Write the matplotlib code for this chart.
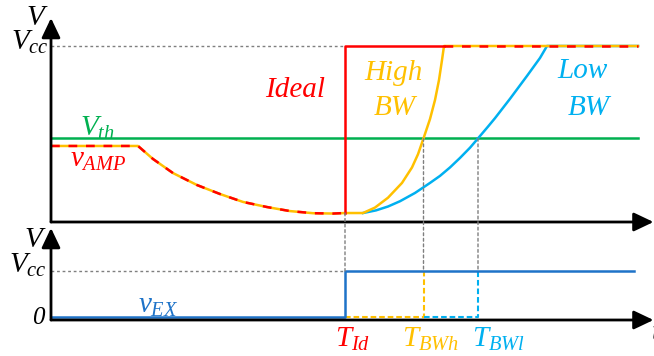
import matplotlib
matplotlib.use("Agg")
from matplotlib import pyplot as plt
from matplotlib.patches import ConnectionPatch

plt.rcParams['mathtext.fontset'] = 'custom'
plt.rcParams['mathtext.it'] = 'Liberation Serif:italic'
plt.rcParams['mathtext.rm'] = 'Liberation Serif'
plt.rcParams['font.family'] = 'Liberation Serif'

RED = '#ff0000'
YEL = '#ffc000'
CYA = '#00b0f0'
GRN = '#00b050'
BLU = '#1e73c8'
GRY = '#7f7f7f'

# time in arbitrary units, voltage normalised to Vcc = 1
vcc = 1.0
vth = 0.475
t_id = 29.4      # ideal comparator switches
t_bwh = 37.25    # high bandwidth crosses Vth
t_bwl = 42.7     # low bandwidth crosses Vth
t_end = 58.7
t_ex_end = 58.3

# amplifier output before the switching instant
amp_t = [0, 8.7, 10.2, 12.2, 14.6, 16.9, 19.2, 21.6, 23.9, 26.2, 28.2, 29.4]
amp_v = [0.432, 0.432, 0.358, 0.278, 0.210, 0.159, 0.114, 0.085, 0.062, 0.050, 0.048, 0.051]

# flat part shared by both real responses
settle_t = [29.4, 31.2]
settle_v = [0.051, 0.051]

high_t = [31.2, 32.4, 33.7, 35.1, 36.1, 36.7, 37.25, 37.9, 38.4, 38.8, 39.1, 39.3]
high_v = [0.051, 0.082, 0.138, 0.222, 0.310, 0.385, 0.475, 0.585, 0.693, 0.807, 0.920, 1.0]

low_t = [31.2, 32.5, 33.7, 34.9, 36.4, 37.9, 38.9, 39.9, 40.9, 41.9, 42.7,
         43.7, 44.4, 45.9, 47.6, 48.9, 49.6]
low_v = [0.051, 0.066, 0.088, 0.118, 0.165, 0.222, 0.262, 0.310, 0.364, 0.422, 0.475,
         0.542, 0.590, 0.700, 0.830, 0.932, 1.0]

ex_t = [0, t_id, t_id, t_ex_end]
ex_v = [0, 0, vcc, vcc]

fig = plt.figure(figsize=(6.54, 3.56), dpi=100)
ax1 = fig.add_axes([51/654, 130/356, 603/654, 226/356])
ax2 = fig.add_axes([51/654, 0, 603/654, 130/356])
ax1.set_xlim(0, 60.3)
ax1.set_ylim(-4/176, 222/176)
ax2.set_xlim(0, 60.3)
ax2.set_ylim(-39/46, 91/46)
for a in (ax1, ax2):
    a.axis('off')

lw = 1.8
dash = (3.5, 3.5)


def arrow(ax, start, tip):
    ax.annotate('', xy=tip, xytext=start, annotation_clip=False,
                arrowprops=dict(arrowstyle='-|>,head_length=0.8,head_width=0.38',
                                mutation_scale=15, lw=2, color='k',
                                shrinkA=0, shrinkB=0))


def dotted(xa, ya, axa, xb, yb, axb):
    con = ConnectionPatch(xyA=(xa, ya), coordsA=axa.transData,
                          xyB=(xb, yb), coordsB=axb.transData,
                          color=GRY, lw=1, linestyle=(0, (2, 2)))
    fig.add_artist(con)


# ---- top: comparator input / output ----
ax1.plot([0, t_id], [vcc, vcc], color=GRY, lw=1, ls=(0, (2, 2)), clip_on=False)
dotted(t_id, settle_v[0], ax1, t_id, vcc, ax2)
dotted(t_bwh, vth, ax1, t_bwh, vcc, ax2)
dotted(t_bwl, vth, ax1, t_bwl, vcc, ax2)

ax1.plot([0, t_end], [vth, vth], color=GRN, lw=lw)

ax1.plot(low_t + [t_end], low_v + [vcc], color=CYA, lw=lw, solid_joinstyle='round')
ax1.plot(amp_t + settle_t + high_t + [t_end], amp_v + settle_v + high_v + [vcc],
         color=YEL, lw=lw, solid_joinstyle='round')
# ideal response, dashed where it lies over the real ones
ax1.plot(amp_t, amp_v, color=RED, lw=lw, dashes=dash)
ax1.plot([t_id, t_id, high_t[-1]], [amp_v[-1], vcc, vcc], color=RED, lw=lw)
ax1.plot([high_t[-1], t_end], [vcc, vcc], color=RED, lw=lw, dashes=dash)

arrow(ax1, (0, 0), (0, 204/176))
arrow(ax1, (0, 0), (60.25, 0))

fs = 21
ax1.text(-1.4, 1.16, '$V$', fontsize=fs, ha='center', va='center')
ax1.text(-0.2, 0.977, '$V_{cc}$', fontsize=fs, ha='right', va='baseline')
ax1.text(2.9, 0.489, '$V_{th}$', fontsize=fs, color=GRN, va='baseline')
ax1.text(1.9, 0.3125, '$v_{AMP}$', fontsize=fs, color=RED, va='baseline')
ax1.text(21.4, 0.71, 'Ideal', fontsize=fs, style='italic', color=RED, va='baseline')
ax1.text(34.3, 0.807, 'High', fontsize=fs, style='italic', color=YEL, ha='center', va='baseline')
ax1.text(34.4, 0.608, 'BW', fontsize=fs, style='italic', color=YEL, ha='center', va='baseline')
ax1.text(53.1, 0.818, 'Low', fontsize=fs, style='italic', color=CYA, ha='center', va='baseline')
ax1.text(53.8, 0.608, 'BW', fontsize=fs, style='italic', color=CYA, ha='center', va='baseline')

# ---- bottom: excitation signal ----
ax2.plot([0, t_id], [vcc, vcc], color=GRY, lw=1, ls=(0, (2, 2)))
ed = (2.7, 1.4)
ax2.plot([t_id, t_bwh, t_bwh], [0, 0, vcc], color=YEL, lw=1.5, dashes=ed)
ax2.plot([t_bwh, t_bwl, t_bwl], [0, 0, vcc], color=CYA, lw=1.5, dashes=ed)
ax2.plot(ex_t, ex_v, color=BLU, lw=lw)

arrow(ax2, (0, -3/46), (0, 89/46))
arrow(ax2, (0, -3/46), (60.25, -3/46))

ax2.text(-1.6, 1.674, '$V$', fontsize=fs, ha='center', va='center')
ax2.text(-0.4, 0.957, '$V_{cc}$', fontsize=fs, ha='right', va='baseline')
ax2.text(-1.3, -0.02, '0', fontsize=18, style='italic', ha='center', va='center')
ax2.text(8.7, 0.087, '$v_{EX}$', fontsize=fs, color=BLU, va='baseline')
ax2.text(28.4, -0.652, '$T_{Id}$', fontsize=fs, color=RED, va='baseline')
ax2.text(35.1, -0.652, '$T_{BWh}$', fontsize=fs, color=YEL, va='baseline')
ax2.text(42.1, -0.652, '$T_{BWl}$', fontsize=fs, color=CYA, va='baseline')
ax2.text(60.0, -0.5, '$t$', fontsize=fs, va='baseline')

fig.savefig('out.png', dpi=100)
